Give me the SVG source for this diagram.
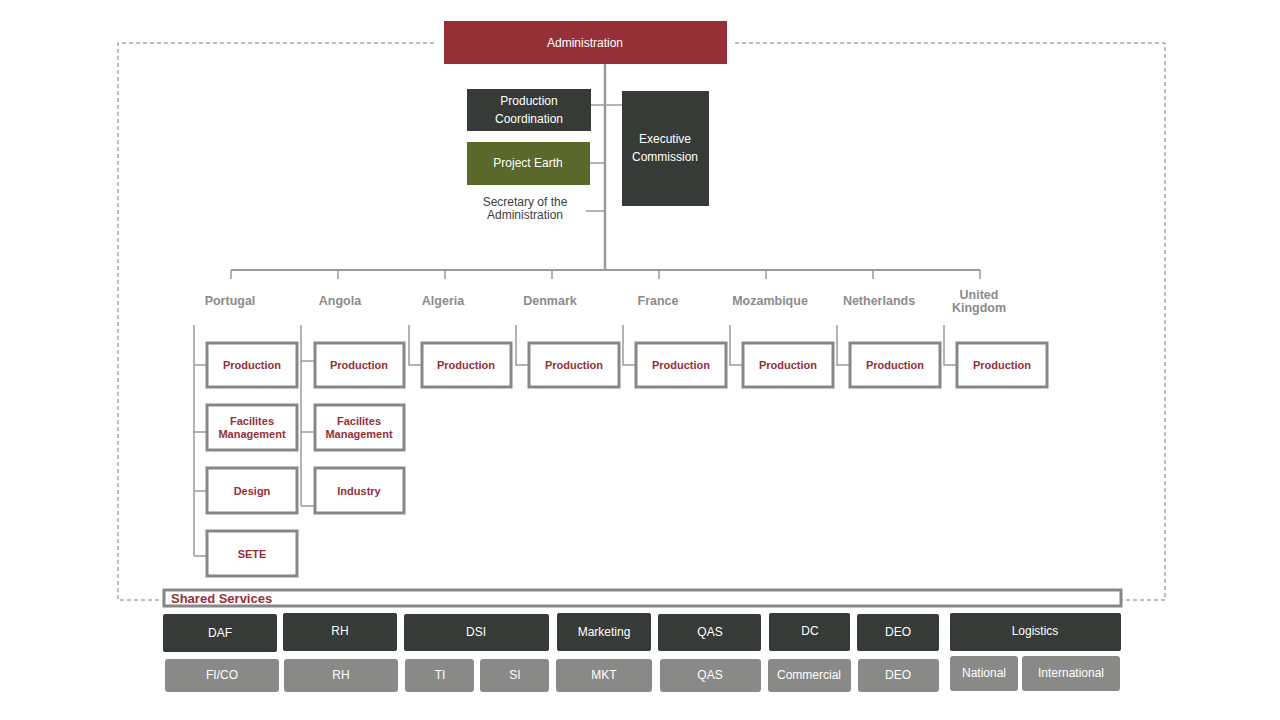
<svg xmlns="http://www.w3.org/2000/svg" width="1280" height="720" viewBox="0 0 1280 720">
<style>
text{font-family:"Liberation Sans",Arial,sans-serif;text-anchor:middle;dominant-baseline:middle;transform:translateY(1px)}
.w{fill:#fff;font-size:12px}
.ctry{fill:#8c8c8c;font-size:12.5px;font-weight:bold}
.unit rect{fill:#fff;stroke:#878787;stroke-width:3}
.unit text{fill:#952f38;font-size:11px;font-weight:bold}
.dk{fill:#373b38}
.gr{fill:#898a88}
.ln{stroke:#9a9a9a;stroke-width:1.5;fill:none}
.trunk{stroke:#9a9a9a;stroke-width:2.5;fill:none}
.dash{stroke:#808080;stroke-width:1;stroke-dasharray:4 3;fill:none}
</style>
<g id="connectors">
<path class="dash" d="M434 43H118V600H164M735 43H1165V600H1121"/>
<path class="trunk" d="M605 64V270"/>
<path class="ln" d="M591 105H622M590 163H605M586 211H605"/>
<path class="trunk" d="M231 270H980" style="stroke-width:2"/>
<path class="ln" d="M231 270V279M338 270V279M445 270V279M552 270V279M659 270V279M766 270V279M873 270V279M980 270V279"/>
<path class="ln" d="M194 325V556M194 365H207M194 432H207M194 491H207M194 556H207"/>
<path class="ln" d="M301 325V506M301 361H315M301 432H315M301 506H315"/>
<path class="ln" d="M409 325V365H422M516 325V365H529M623 325V365H636M730 325V365H743M837 325V365H850M944 325V365H957"/>
</g>
<g id="administration"><rect x="444" y="21" width="283" height="43" fill="#952f38"/><text class="w" x="585" y="43">Administration</text></g>
<g id="production-coordination"><rect class="dk" x="467" y="89" width="124" height="42"/><text class="w" x="529" y="101">Production</text><text class="w" x="529" y="119">Coordination</text></g>
<g id="executive-commission"><rect class="dk" x="622" y="91" width="87" height="115"/><text class="w" x="665" y="139">Executive</text><text class="w" x="665" y="157">Commission</text></g>
<g id="project-earth"><rect x="467" y="142" width="123" height="43" fill="#5a682c"/><text class="w" x="528" y="163">Project Earth</text></g>
<g id="secretary"><text x="525" y="202" style="fill:#404040;font-size:12px">Secretary of the</text><text x="525" y="215" style="fill:#404040;font-size:12px">Administration</text></g>
<g id="countries">
<text class="ctry" x="230" y="301">Portugal</text>
<text class="ctry" x="340" y="301">Angola</text>
<text class="ctry" x="443" y="301">Algeria</text>
<text class="ctry" x="550" y="301">Denmark</text>
<text class="ctry" x="658" y="301">France</text>
<text class="ctry" x="770" y="301">Mozambique</text>
<text class="ctry" x="879" y="301">Netherlands</text>
<text class="ctry" x="979" y="295">United</text>
<text class="ctry" x="979" y="308">Kingdom</text>
</g>
<g id="pt-production" class="unit"><rect x="207" y="343" width="90" height="44"/><text x="252" y="365">Production</text></g>
<g id="pt-facilities" class="unit"><rect x="207" y="405" width="90" height="45"/><text x="252" y="421">Facilites</text><text x="252" y="434">Management</text></g>
<g id="pt-design" class="unit"><rect x="207" y="468" width="90" height="45"/><text x="252" y="491">Design</text></g>
<g id="pt-sete" class="unit"><rect x="207" y="531" width="90" height="45"/><text x="252" y="554">SETE</text></g>
<g id="ao-production" class="unit"><rect x="315" y="343" width="89" height="44"/><text x="359" y="365">Production</text></g>
<g id="ao-facilities" class="unit"><rect x="315" y="405" width="89" height="45"/><text x="359" y="421">Facilites</text><text x="359" y="434">Management</text></g>
<g id="ao-industry" class="unit"><rect x="315" y="468" width="89" height="45"/><text x="359" y="491">Industry</text></g>
<g id="dz-production" class="unit"><rect x="422" y="343" width="89" height="44"/><text x="466" y="365">Production</text></g>
<g id="dk-production" class="unit"><rect x="529" y="343" width="90" height="44"/><text x="574" y="365">Production</text></g>
<g id="fr-production" class="unit"><rect x="636" y="343" width="90" height="44"/><text x="681" y="365">Production</text></g>
<g id="mz-production" class="unit"><rect x="743" y="343" width="90" height="44"/><text x="788" y="365">Production</text></g>
<g id="nl-production" class="unit"><rect x="850" y="343" width="90" height="44"/><text x="895" y="365">Production</text></g>
<g id="uk-production" class="unit"><rect x="957" y="343" width="90" height="44"/><text x="1002" y="365">Production</text></g>
<g id="shared-services"><rect x="164" y="590" width="957" height="16" fill="#fff" stroke="#878787" stroke-width="3"/><text x="171" y="599" style="fill:#952f38;font-size:13px;font-weight:bold;text-anchor:start">Shared Services</text></g>
<g id="services-top">
<rect class="dk" x="163" y="614" width="114" height="38" rx="2"/><text class="w" x="220" y="633">DAF</text>
<rect class="dk" x="283" y="613" width="114" height="38" rx="2"/><text class="w" x="340" y="631">RH</text>
<rect class="dk" x="404" y="614" width="145" height="37" rx="2"/><text class="w" x="476" y="632">DSI</text>
<rect class="dk" x="557" y="613" width="94" height="38" rx="2"/><text class="w" x="604" y="632">Marketing</text>
<rect class="dk" x="658" y="614" width="103" height="37" rx="2"/><text class="w" x="710" y="632">QAS</text>
<rect class="dk" x="769" y="613" width="81" height="38" rx="2"/><text class="w" x="810" y="631">DC</text>
<rect class="dk" x="857" y="614" width="82" height="37" rx="2"/><text class="w" x="898" y="632">DEO</text>
<rect class="dk" x="950" y="613" width="171" height="38" rx="2"/><text class="w" x="1035" y="631">Logistics</text>
</g>
<g id="services-bottom">
<rect class="gr" x="165" y="659" width="114" height="33" rx="3"/><text class="w" x="222" y="675">FI/CO</text>
<rect class="gr" x="284" y="659" width="114" height="33" rx="3"/><text class="w" x="341" y="675">RH</text>
<rect class="gr" x="405" y="659" width="69" height="33" rx="3"/><text class="w" x="440" y="675">TI</text>
<rect class="gr" x="480" y="659" width="69" height="33" rx="3"/><text class="w" x="515" y="675">SI</text>
<rect class="gr" x="556" y="659" width="96" height="33" rx="3"/><text class="w" x="604" y="675">MKT</text>
<rect class="gr" x="660" y="659" width="101" height="33" rx="3"/><text class="w" x="710" y="675">QAS</text>
<rect class="gr" x="768" y="659" width="83" height="33" rx="3"/><text class="w" x="809" y="675">Commercial</text>
<rect class="gr" x="858" y="659" width="81" height="33" rx="3"/><text class="w" x="898" y="675">DEO</text>
<rect class="gr" x="950" y="656" width="68" height="35" rx="3"/><text class="w" x="984" y="673">National</text>
<rect class="gr" x="1022" y="656" width="98" height="35" rx="3"/><text class="w" x="1071" y="673">International</text>
</g>
</svg>
